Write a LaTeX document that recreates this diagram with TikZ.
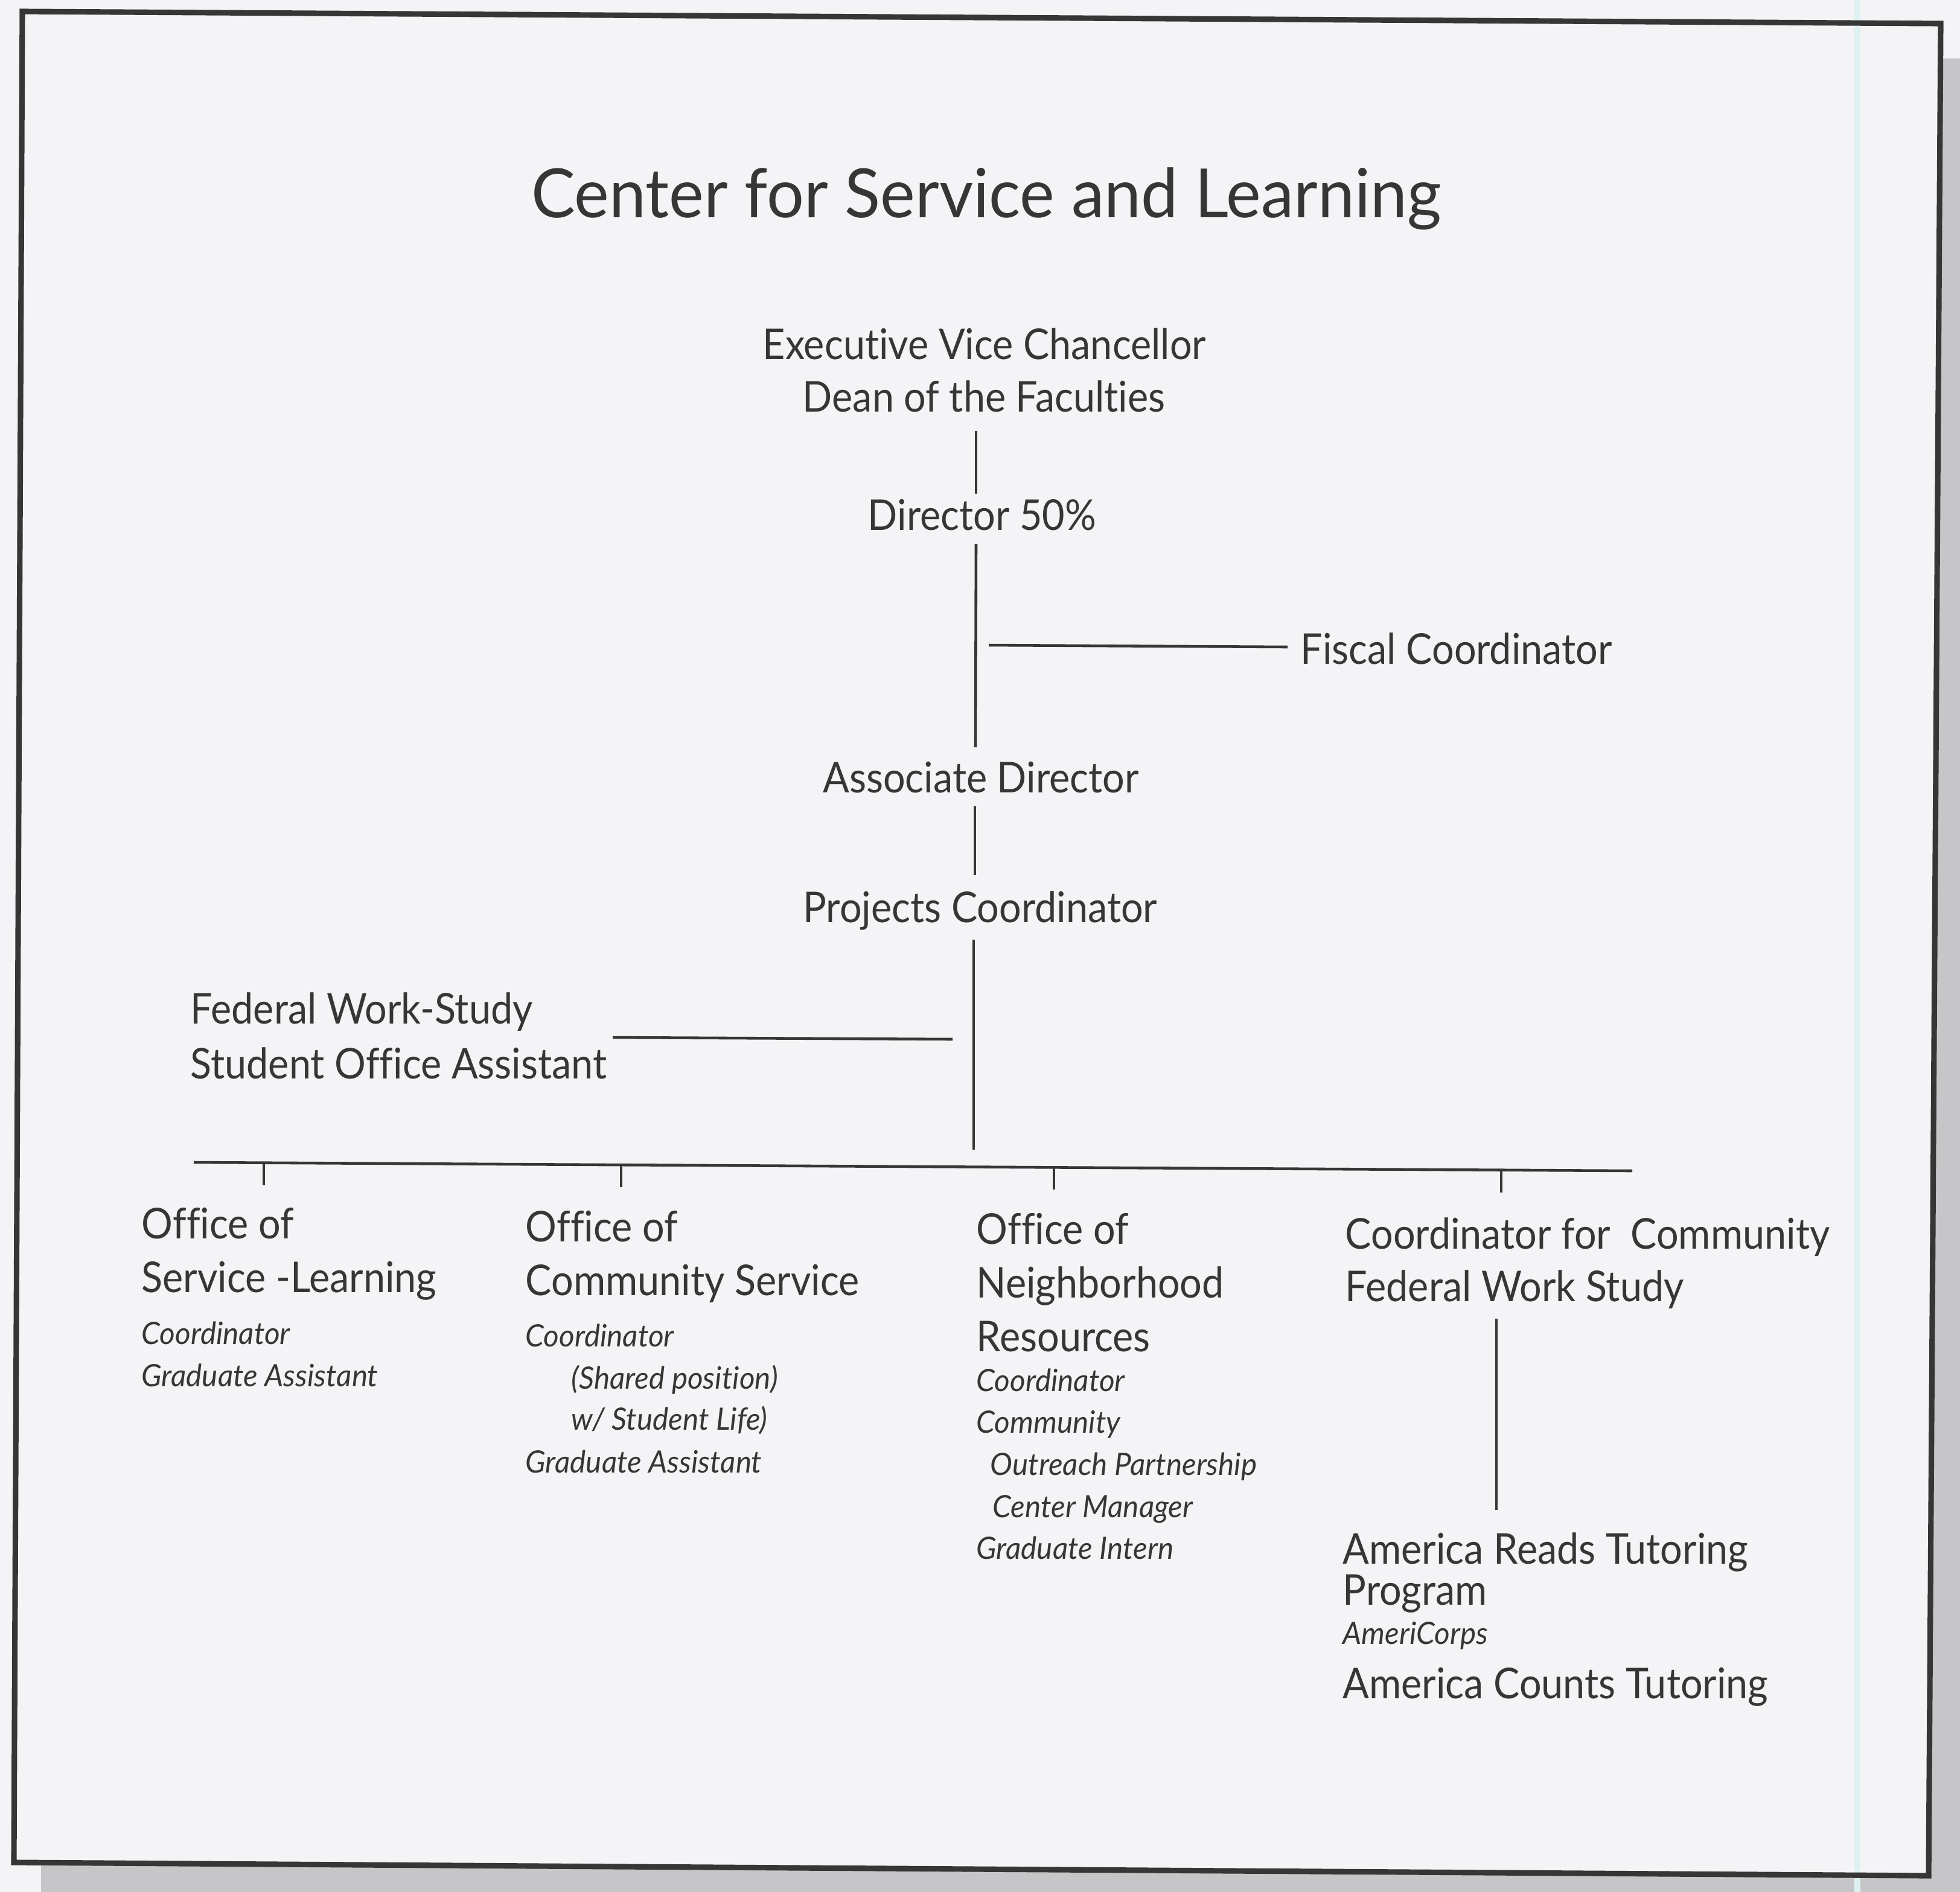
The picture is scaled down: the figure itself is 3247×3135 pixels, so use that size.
\documentclass[tikz,border=0pt]{standalone}
\usepackage{fontspec}
\setmainfont{Lato}[FakeStretch=0.92, Ligatures=NoCommon]
\definecolor{ink}{HTML}{363636}
\definecolor{paper}{HTML}{F4F4F6}
\definecolor{shadowgray}{HTML}{C6C6C8}
\definecolor{guide}{HTML}{DDF1F2}
\begin{document}
\begin{tikzpicture}[x=0.01cm,y=-0.01cm,
  txt/.style={inner sep=0pt, text=ink},
  heading/.style={txt, font=\fontsize{32}{32}\selectfont\addfontfeatures{FakeStretch=0.97}},
  lbl/.style={txt, font=\fontsize{20}{20}\selectfont},
  sub/.style={txt, font=\fontsize{14.5}{14.5}\selectfont\itshape\addfontfeatures{FakeStretch=0.97}},
  link/.style={draw=ink, line width=1.3pt},
  frameline/.style={draw=ink, line width=2.6pt, line join=miter}]
\useasboundingbox (0,0) rectangle (3247,3135);
\fill[paper] (0,0) rectangle (3247,3135);
% drop shadow and page frame
\fill[shadowgray] (82,77) -- (3267,97) -- (3247,3166) -- (68,3144) -- cycle;
\fill[paper] (37,19) -- (3215,39) -- (3195,3108) -- (23,3086) -- cycle;
\fill[guide] (3072,0) rectangle (3082,3135);
\draw[frameline] (37,19) -- (3215,39) -- (3195,3108) -- (23,3086) -- cycle;

% title
\node[heading, anchor=base] (title) at (1634,360) {Center for Service and Learning};

% chain of command
\node[lbl, anchor=base] (evc) at (1631,595) {Executive Vice Chancellor};
\node[lbl, anchor=base] (dean) at (1630,682) {Dean of the Faculties};
\node[lbl, anchor=base] (dir) at (1627,878) {Director 50\%};
\node[lbl, anchor=base west] (fiscal) at (2154,1100) {Fiscal Coordinator};
\node[lbl, anchor=base] (assoc) at (1625,1313) {Associate Director};
\node[lbl, anchor=base] (proj) at (1624,1528) {Projects Coordinator};
\node[lbl, anchor=base west] (fws) at (315,1696) {Federal Work-Study};
\node[lbl, anchor=base west] (fwsb) at (315,1787) {Student Office Assistant};

% spine segments
\coordinate (s1a) at (1617,714);  \coordinate (s1b) at (1617,818);
\coordinate (s2a) at (1617,901);  \coordinate (s2b) at (1616,1238);
\coordinate (s3a) at (1615,1336); \coordinate (s3b) at (1615,1450);
\coordinate (s4a) at (1613,1557); \coordinate (s4b) at (1613,1905);
\draw[link] (s1a) -- (s1b);
\draw[link] (s2a) -- (s2b);
\draw[link] (s3a) -- (s3b);
\draw[link] (s4a) -- (s4b);

% side branches
\coordinate (fa) at (1638,1069);
\coordinate (fb) at (2133,1072);
\draw[link] (fa) -- (fb);
\coordinate (wa) at (1015,1719);
\coordinate (wb) at (1578,1722);
\draw[link] (wa) -- (wb);

% distribution bar and drops
\coordinate (busl) at (321,1926);
\coordinate (busr) at (2704,1940);
\draw[link] (busl) -- (busr);
\coordinate (d1a) at (437,1927);  \coordinate (d1b) at (437,1964);
\coordinate (d2a) at (1029,1930); \coordinate (d2b) at (1029,1967);
\coordinate (d3a) at (1746,1934); \coordinate (d3b) at (1746,1971);
\coordinate (d4a) at (2487,1939); \coordinate (d4b) at (2487,1976);
\draw[link] (d1a) -- (d1b);
\draw[link] (d2a) -- (d2b);
\draw[link] (d3a) -- (d3b);
\draw[link] (d4a) -- (d4b);

% Office of Service-Learning
\node[lbl, anchor=base west] (sl1) at (234,2052) {Office of};
\node[lbl, anchor=base west] (sl2) at (234,2141) {Service -Learning};
\node[sub, anchor=base west] (sl3) at (234,2227) {Coordinator};
\node[sub, anchor=base west] (sl4) at (234,2297) {Graduate Assistant};

% Office of Community Service
\node[lbl, anchor=base west] (cs1) at (870,2057) {Office of};
\node[lbl, anchor=base west] (cs2) at (870,2146) {Community Service};
\node[sub, anchor=base west] (cs3) at (870,2231) {Coordinator};
\node[sub, anchor=base west] (cs4) at (946,2301) {(Shared position)};
\node[sub, anchor=base west] (cs5) at (946,2369) {w/ Student Life)};
\node[sub, anchor=base west] (cs6) at (870,2440) {Graduate Assistant};

% Office of Neighborhood Resources
\node[lbl, anchor=base west] (nr1) at (1617,2061) {Office of};
\node[lbl, anchor=base west] (nr2) at (1617,2150) {Neighborhood};
\node[lbl, anchor=base west] (nr3) at (1617,2239) {Resources};
\node[sub, anchor=base west] (nr4) at (1617,2305) {Coordinator};
\node[sub, anchor=base west] (nr5) at (1617,2374) {Community};
\node[sub, anchor=base west] (nr6) at (1640,2444) {Outreach Partnership};
\node[sub, anchor=base west] (nr7) at (1644,2514) {Center Manager};
\node[sub, anchor=base west] (nr8) at (1617,2583) {Graduate Intern};

% Federal Work Study coordinator
\node[lbl, anchor=base west] (fw1) at (2228,2069) {Coordinator for\ \ Community};
\node[lbl, anchor=base west] (fw2) at (2228,2156) {Federal Work Study};
\coordinate (fva) at (2479,2185);
\coordinate (fvb) at (2479,2502);
\draw[link] (fva) -- (fvb);
\node[lbl, anchor=base west] (ar1) at (2224,2591) {America Reads Tutoring};
\node[lbl, anchor=base west] (ar2) at (2224,2659) {Program};
\node[sub, anchor=base west] (ar3) at (2224,2724) {AmeriCorps};
\node[lbl, anchor=base west] (ac1) at (2224,2814) {America Counts Tutoring};
\end{tikzpicture}
\end{document}
